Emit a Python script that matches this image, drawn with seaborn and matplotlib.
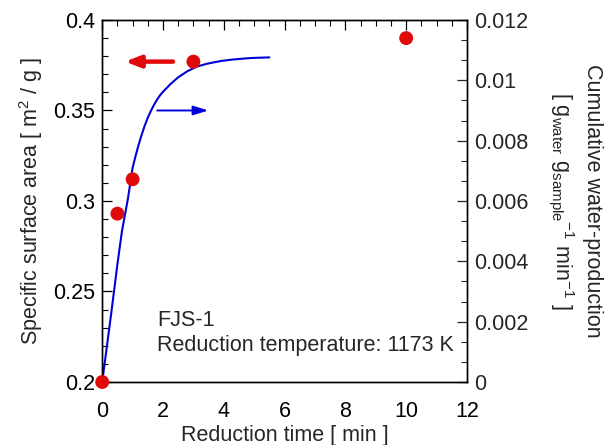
import matplotlib
matplotlib.use("Agg")
import matplotlib.pyplot as plt
from matplotlib.ticker import MultipleLocator, FixedLocator
import seaborn as sns
import pandas as pd

# ---- data ----
ssa_time = [0, 0.5, 1, 3, 10]
ssa_value = [0.2, 0.293, 0.312, 0.377, 0.390]

water_time = [0, 0.3, 0.5, 0.65, 0.85, 1.0, 1.1, 1.2, 1.3, 1.4, 1.5, 1.6,
              1.7, 1.8, 1.9, 2.0, 2.25, 2.5, 2.8, 3.1, 3.45, 3.9, 4.3, 4.9,
              5.5]
water_value = [0, 0.0023, 0.0039, 0.0050, 0.0061, 0.0071, 0.0075, 0.00787,
               0.0082, 0.0085, 0.00876, 0.00898, 0.00918, 0.00935, 0.0095,
               0.00962, 0.00988, 0.0101, 0.0103, 0.01045, 0.01055, 0.01064,
               0.01069, 0.01074, 0.01076]

x_ticks = [0, 2, 4, 6, 8, 10, 12]
left_ticks = [0.2, 0.25, 0.3, 0.35, 0.4]
left_tick_labels = ["0.2", "0.25", "0.3", "0.35", "0.4"]
right_ticks = [0, 0.002, 0.004, 0.006, 0.008, 0.01, 0.012]
right_tick_labels = ["0", "0.002", "0.004", "0.006", "0.008", "0.01", "0.012"]

sample_name = "FJS-1"
condition_text = "Reduction temperature: 1173 K"

# ---- style ----
sns.set_style("white")
plt.rcParams["font.family"] = ["Liberation Sans", "DejaVu Sans"]
plt.rcParams["mathtext.fontset"] = "custom"
plt.rcParams["mathtext.rm"] = "Liberation Sans"
plt.rcParams["mathtext.it"] = "Liberation Sans"
plt.rcParams["mathtext.default"] = "regular"

RED = "#e00a0a"
BLUE = "#0000d8"
FS = 15.5

fig = plt.figure(figsize=(6.12, 4.45), dpi=100)
ax = fig.add_axes([0.167, 0.1416, 0.596, 0.8135])
ax2 = ax.twinx()

df_ssa = pd.DataFrame({"t": ssa_time, "s": ssa_value})
df_w = pd.DataFrame({"t": water_time, "w": water_value})

sns.lineplot(data=df_w, x="t", y="w", ax=ax2, color=BLUE, lw=1.5,
             estimator=None, sort=False, zorder=2)
sns.scatterplot(data=df_ssa, x="t", y="s", ax=ax, color=RED, s=100,
                edgecolor="none", zorder=5, clip_on=False)
ax.set_zorder(ax2.get_zorder() + 1)
ax.patch.set_visible(False)

ax.set_xlim(0, 12)
ax.set_ylim(0.2, 0.4)
ax2.set_ylim(0, 0.012)

ax.xaxis.set_major_locator(FixedLocator(x_ticks))
ax.xaxis.set_minor_locator(MultipleLocator(0.5))
ax.yaxis.set_major_locator(FixedLocator(left_ticks))
ax.set_yticklabels(left_tick_labels)
ax.yaxis.set_minor_locator(MultipleLocator(0.01))
ax2.yaxis.set_major_locator(FixedLocator(right_ticks))
ax2.set_yticklabels(right_tick_labels)
ax2.yaxis.set_minor_locator(MultipleLocator(0.002 / 3))

ax.tick_params(axis="both", which="both", direction="in", top=True,
               right=False, labelsize=FS, colors="black", pad=5)
ax.tick_params(axis="x", which="major", pad=14)
ax.tick_params(which="major", length=7, width=0.9)
ax.tick_params(which="minor", length=4, width=0.8)
ax2.tick_params(axis="y", which="both", direction="in", labelsize=FS, pad=5)
ax2.tick_params(which="major", length=7, width=0.9)
ax2.tick_params(which="minor", length=4, width=0.8)

for a in (ax, ax2):
    for sp in a.spines.values():
        sp.set_color("black")
        sp.set_linewidth(1.0)

ax.set_xlabel("Reduction time [ min ]", fontsize=FS, labelpad=2)
ax.set_ylabel("Specific surface area [ m$^{2}$ / g ]", fontsize=FS, labelpad=6)
ax2.set_ylabel("Cumulative water-production\n"
               "[ g$_{water}$ g$_{sample}$$^{-1}$ min$^{-1}$ ]",
               fontsize=FS, rotation=270, labelpad=54, linespacing=1.3)

# arrows pointing to respective axes
ax.annotate("", xy=(0.75, 0.377), xytext=(2.33, 0.377),
            arrowprops=dict(arrowstyle="-|>,head_length=0.9,head_width=0.35",
                            color=RED, lw=3.2, shrinkA=0, shrinkB=0))
ax2.annotate("", xy=(3.49, 0.009), xytext=(1.81, 0.009),
             arrowprops=dict(arrowstyle="-|>,head_length=0.9,head_width=0.28",
                             color=BLUE, lw=1.4, shrinkA=0, shrinkB=0))

ax.text(1.8, 0.2338, sample_name, fontsize=FS, va="center", ha="left")
ax.text(1.8, 0.2204, condition_text, fontsize=FS, va="center", ha="left")

fig.savefig("out.png", dpi=100)
